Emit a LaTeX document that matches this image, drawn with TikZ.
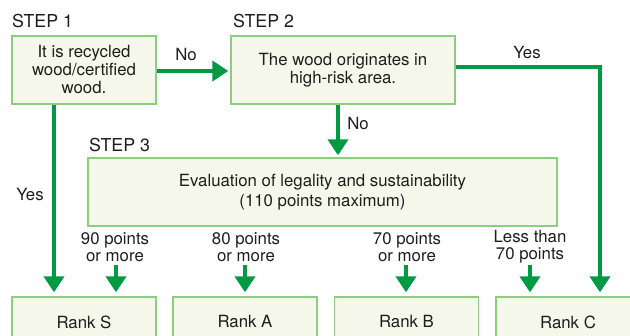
\documentclass[tikz,border=0pt]{standalone}
\usepackage{fontspec}
\setmainfont{TeX Gyre Heros}
\usetikzlibrary{arrows.meta}
\definecolor{flowgreen}{RGB}{0,154,68}
\definecolor{boxedge}{RGB}{140,206,128}
\definecolor{boxfill}{RGB}{244,247,233}
\definecolor{ink}{RGB}{30,30,30}
\begin{document}
\begin{tikzpicture}[x=1pt,y=-1pt,
  font=\fontsize{16.8}{18}\selectfont, text=ink,
  stepbox/.style={draw=boxedge, line width=1.4pt, fill=boxfill, align=center,
    inner sep=0pt, minimum height=68pt},
  rankbox/.style={stepbox, minimum width=144pt, minimum height=50pt},
  steplabel/.style={anchor=west, font=\fontsize{17.8}{18}\selectfont, inner sep=0pt},
  note/.style={align=center, inner sep=0pt},
  flow/.style={draw=flowgreen, line width=4pt,
    -{Triangle[length=16pt,width=20pt]}}]
\useasboundingbox (0,0) rectangle (630,336);
\begin{scope}
\clip (0,0) rectangle (630,336);

% step boxes
\node[stepbox, minimum width=144pt] (s1) at (84,70)
  {It is recycled\\wood/certified\\wood.};
\node[stepbox, minimum width=224pt] (s2) at (343,70)
  {The wood originates in\\high-risk area.};
\node[stepbox, minimum width=469pt, font=\fontsize{16.8}{20}\selectfont] (s3) at (322.5,192)
  {Evaluation of legality and sustainability\\(110 points maximum)};

\node[steplabel] (t1) at (12,21) {STEP 1};
\node[steplabel] (t2) at (233,21) {STEP 2};
\node[steplabel] (t3) at (89,145) {STEP 3};

% rank boxes
\node[rankbox] (rS) at (84,322) {Rank S};
\node[rankbox] (rA) at (245,322) {Rank A};
\node[rankbox] (rB) at (406.5,322) {Rank B};
\node[rankbox] (rC) at (568,322) {Rank C};

% step 1 -> step 2
\draw[flow, shorten >=2pt] (s1.east |- 0,71) -- (s2.west |- 0,71);
\node[note] (no1) at (186,55) {No};

% step 1 -> rank S
\draw[flow, shorten >=4pt] (s1.south -| 54,0) -- (rS.north -| 54,0);
\node[note] (yes1) at (30,195) {Yes};

% step 2 -> rank C
\coordinate (corner) at (600,67);
\draw[flow, shorten >=4pt] (s2.east |- corner) -- (corner) -- (rC.north -| corner);
\node[note] (yes2) at (527,53) {Yes};

% step 2 -> step 3
\draw[flow, shorten >=2pt] (s2.south -| 338,0) -- (s3.north -| 338,0);
\node[note] (no2) at (358,124) {No};

% score thresholds
\node[note, font=\fontsize{16.8}{17}\selectfont] (p90) at (115,247) {90 points\\or more};
\node[note, font=\fontsize{16.8}{17}\selectfont] (p80) at (246,247) {80 points\\or more};
\node[note, font=\fontsize{16.8}{17}\selectfont] (p70) at (407,247) {70 points\\or more};
\node[note, font=\fontsize{16.8}{17}\selectfont] (plt) at (530,247) {Less than\\70 points};

\coordinate (a90) at (116,265);
\coordinate (a80) at (245,265);
\coordinate (a70) at (406,265);
\coordinate (alt) at (530,265);
\draw[flow, shorten >=4pt] (a90) -- (rS.north -| a90);
\draw[flow, shorten >=4pt] (a80) -- (rA.north -| a80);
\draw[flow, shorten >=4pt] (a70) -- (rB.north -| a70);
\draw[flow, shorten >=4pt] (alt) -- (rC.north -| alt);
\end{scope}
\end{tikzpicture}
\end{document}
